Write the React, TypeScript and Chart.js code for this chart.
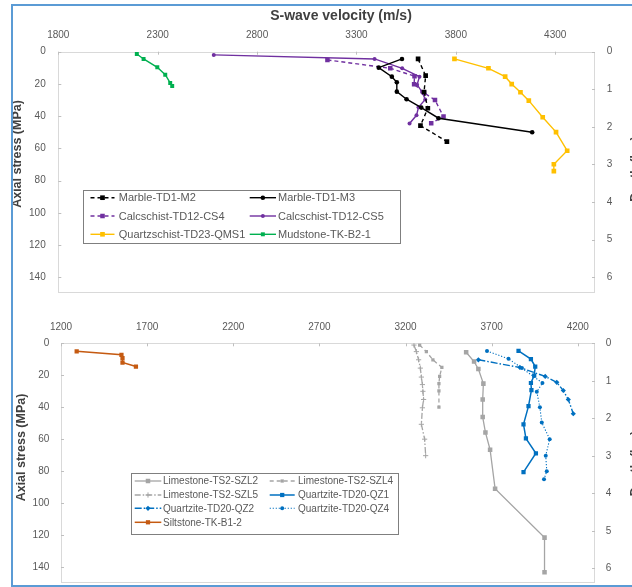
import React, { useEffect, useRef } from 'react';
import { Chart, registerables } from 'chart.js';

Chart.register(...registerables);

const FONT = "'Liberation Sans', Arial, Helvetica, sans-serif";

// ---------- axis ticks ----------
const TOP_VEL_TICKS = [1800, 2300, 2800, 3300, 3800, 4300];
const BOTTOM_VEL_TICKS = [1200, 1700, 2200, 2700, 3200, 3700, 4200];
const STRESS_TICKS = [0, 20, 40, 60, 80, 100, 120, 140];
const DEPTH_TICKS = [0, 1, 2, 3, 4, 5, 6];

// ---------- top chart data (S-wave velocity m/s, axial stress MPa) ----------
const M2_VEL = [3610, 3648, 3640, 3659, 3622, 3755];
const M2_STRESS = [4.5, 14.9, 25, 35.1, 45.9, 55.8];
const M3_VEL = [3529, 3412, 3478, 3503, 3503, 3552, 3626, 3713, 4184];
const M3_STRESS = [4.5, 9.9, 15.5, 19, 24.8, 29.5, 34.7, 41.3, 50];
const CS4_VEL = [3154, 3470, 3592, 3590, 3640, 3695, 3738, 3676];
const CS4_STRESS = [5.1, 10.3, 15.2, 20.2, 25.5, 30, 40.3, 44.4];
const CS5_VEL = [2582, 3391, 3530, 3617, 3605, 3630, 3646, 3612, 3602, 3567];
const CS5_STRESS = [2, 4.5, 10.3, 15.5, 20.5, 25, 29.6, 34.5, 39.5, 44.6];
const QMS1_VEL = [3793, 3964, 4048, 4081, 4125, 4167, 4237, 4304, 4360, 4293, 4293];
const QMS1_STRESS = [4.5, 10.3, 15.5, 20.1, 25.2, 30.4, 40.7, 49.9, 61.5, 69.9, 74.1];
const MUD_VEL = [2195, 2229, 2298, 2338, 2363, 2373];
const MUD_STRESS = [1.4, 4.5, 9.7, 14.3, 19.4, 21.3];

// ---------- bottom chart data ----------
const SZL2_VEL = [3552, 3598, 3623, 3652, 3648, 3648, 3664, 3691, 3720, 4007, 4007];
const SZL2_STRESS = [5.6, 11.4, 16.1, 25.2, 35.1, 46.1, 55.7, 66.5, 90.8, 121.4, 143];
const SZL4_VEL = [3282, 3321, 3359, 3411, 3398, 3394, 3394, 3394];
const SZL4_STRESS = [1.1, 5.2, 10.3, 15.1, 20.7, 25.2, 29.7, 39.9];
const SZL5_VEL = [3249, 3263, 3276, 3286, 3292, 3298, 3301, 3305, 3298, 3292, 3311, 3317];
const SZL5_STRESS = [1.1, 5.2, 10.3, 15.5, 21.1, 25.8, 30, 35.1, 40.3, 50.6, 59.9, 70.2];
const QZ1_VEL = [3856, 3928, 3953, 3947, 3928, 3931, 3914, 3885, 3899, 3957, 3885];
const QZ1_STRESS = [4.8, 9.9, 14.5, 20.2, 24.8, 29.3, 39.3, 50.6, 59.4, 68.7, 80.5];
const QZ2_VEL = [3623, 3864, 4011, 4078, 4116, 4145, 4174];
const QZ2_STRESS = [10.3, 15.1, 20.7, 24.4, 29.5, 35.1, 44];
const QZ4_VEL = [3673, 3798, 3876, 3995, 3962, 3980, 3991, 4037, 4014, 4020, 4004];
const QZ4_STRESS = [4.8, 9.7, 15.5, 24.8, 30.3, 39.9, 49.5, 59.9, 70.2, 79.9, 85];
const SILT_VEL = [1291, 1551, 1557, 1557, 1635];
const SILT_STRESS = [5, 7.2, 9.3, 12, 14.5];

type Series = {
  label: string;
  vel: number[];
  stress: number[];
  color: string;
  dash: number[];
  point: string;
  r: number;
  width: number;
};

const TOP_SERIES: Series[] = [
  { label: 'Marble-TD1-M2', vel: M2_VEL, stress: M2_STRESS, color: '#000000', dash: [4, 3], point: 'rect', r: 3.3, width: 1.4 },
  { label: 'Marble-TD1-M3', vel: M3_VEL, stress: M3_STRESS, color: '#000000', dash: [], point: 'circle', r: 2.3, width: 1.4 },
  { label: 'Calcschist-TD12-CS4', vel: CS4_VEL, stress: CS4_STRESS, color: '#7030a0', dash: [4, 3], point: 'rect', r: 3.2, width: 1.4 },
  { label: 'Calcschist-TD12-CS5', vel: CS5_VEL, stress: CS5_STRESS, color: '#7030a0', dash: [], point: 'circle', r: 2, width: 1.4 },
  { label: 'Quartzschist-TD23-QMS1', vel: QMS1_VEL, stress: QMS1_STRESS, color: '#ffc000', dash: [], point: 'rect', r: 3.3, width: 1.4 },
  { label: 'Mudstone-TK-B2-1', vel: MUD_VEL, stress: MUD_STRESS, color: '#00b050', dash: [], point: 'rect', r: 2.8, width: 1.4 },
];

const BOTTOM_SERIES: Series[] = [
  { label: 'Limestone-TS2-SZL2', vel: SZL2_VEL, stress: SZL2_STRESS, color: '#a5a5a5', dash: [], point: 'rect', r: 3.2, width: 1.3 },
  { label: 'Limestone-TS2-SZL4', vel: SZL4_VEL, stress: SZL4_STRESS, color: '#a5a5a5', dash: [4, 3], point: 'rect', r: 2.3, width: 1.3 },
  { label: 'Limestone-TS2-SZL5', vel: SZL5_VEL, stress: SZL5_STRESS, color: '#a5a5a5', dash: [6, 2, 1.5, 2], point: 'cross', r: 2.6, width: 1.3 },
  { label: 'Quartzite-TD20-QZ1', vel: QZ1_VEL, stress: QZ1_STRESS, color: '#0070c0', dash: [], point: 'rect', r: 3, width: 1.5 },
  { label: 'Quartzite-TD20-QZ2', vel: QZ2_VEL, stress: QZ2_STRESS, color: '#0070c0', dash: [7, 2, 1.5, 2], point: 'rectRot', r: 2.6, width: 1.4 },
  { label: 'Quartzite-TD20-QZ4', vel: QZ4_VEL, stress: QZ4_STRESS, color: '#0070c0', dash: [1.2, 1.8], point: 'circle', r: 2, width: 1.1 },
  { label: 'Siltstone-TK-B1-2', vel: SILT_VEL, stress: SILT_STRESS, color: '#c55a11', dash: [], point: 'rect', r: 3, width: 1.5 },
];

function drawMarker(ctx: CanvasRenderingContext2D, style: string, x: number, y: number, r: number, color: string) {
  ctx.save();
  ctx.setLineDash([]);
  ctx.fillStyle = color;
  ctx.strokeStyle = color;
  ctx.lineWidth = 1;
  ctx.beginPath();
  if (style === 'rect') {
    const s = r * Math.SQRT1_2;
    ctx.rect(x - s, y - s, 2 * s, 2 * s);
    ctx.fill();
  } else if (style === 'circle') {
    ctx.arc(x, y, r, 0, Math.PI * 2);
    ctx.fill();
  } else if (style === 'rectRot') {
    ctx.moveTo(x, y - r);
    ctx.lineTo(x + r, y);
    ctx.lineTo(x, y + r);
    ctx.lineTo(x - r, y);
    ctx.closePath();
    ctx.fill();
  } else if (style === 'cross') {
    ctx.moveTo(x - r, y);
    ctx.lineTo(x + r, y);
    ctx.moveTo(x, y - r);
    ctx.lineTo(x, y + r);
    ctx.stroke();
  }
  ctx.restore();
}

type Layout = {
  height: number;
  xMin: number;
  xMax: number;
  xTicks: number[];
  depthMax: number;
  leftW: number;
  rightW: number;
  topH: number;
  padBottom: number;
  xPad: number;
  yPad: number;
  rPad: number;
  xTitle: { text: string; x: number; y: number } | null;
  yTitle: { x: number; y: number };
  rTitle: { x: number; y: number };
  yTitleSize: number;
  legend: {
    left: number;
    top: number;
    right: number;
    bottom: number;
    rowY: number[];
    lineX: number[][];
    textX: number[];
    font: number;
  };
};

function makeDecor(series: Series[], L: Layout) {
  return {
    id: 'decor',
    beforeDatasetsDraw(chart: any) {
      const { ctx, chartArea: a, scales } = chart;
      ctx.save();
      ctx.strokeStyle = '#d9d9d9';
      ctx.lineWidth = 1;
      ctx.strokeRect(Math.round(a.left) + 0.5, Math.round(a.top) + 0.5, Math.round(a.right) - Math.round(a.left) - 1, Math.round(a.bottom) - Math.round(a.top) - 1);
      ctx.strokeStyle = '#bfbfbf';
      ctx.beginPath();
      L.xTicks.forEach((v) => {
        const px = Math.round(scales.x.getPixelForValue(v)) + 0.5;
        ctx.moveTo(px, a.top);
        ctx.lineTo(px, a.top + 3);
      });
      STRESS_TICKS.forEach((v) => {
        const py = Math.round(scales.y.getPixelForValue(v)) + 0.5;
        ctx.moveTo(a.left, py);
        ctx.lineTo(a.left + 3, py);
      });
      DEPTH_TICKS.forEach((v) => {
        const py = Math.round(scales.y2.getPixelForValue(v)) + 0.5;
        ctx.moveTo(a.right - 3, py);
        ctx.lineTo(a.right, py);
      });
      ctx.stroke();
      ctx.restore();
    },
    afterDraw(chart: any) {
      const ctx: CanvasRenderingContext2D = chart.ctx;
      ctx.save();
      // axis titles
      ctx.fillStyle = '#404040';
      ctx.textAlign = 'center';
      ctx.textBaseline = 'middle';
      if (L.xTitle) {
        ctx.font = `bold 14px ${FONT}`;
        ctx.fillText(L.xTitle.text, L.xTitle.x, L.xTitle.y);
      }
      ctx.font = `bold ${L.yTitleSize}px ${FONT}`;
      ctx.save();
      ctx.translate(L.yTitle.x, L.yTitle.y);
      ctx.rotate(-Math.PI / 2);
      ctx.fillText('Axial stress (MPa)', 0, 0);
      ctx.restore();
      ctx.save();
      ctx.translate(L.rTitle.x, L.rTitle.y);
      ctx.rotate(-Math.PI / 2);
      ctx.fillText('Depth (km)', 0, 0);
      ctx.restore();

      // legend
      const g = L.legend;
      ctx.fillStyle = '#ffffff';
      ctx.fillRect(g.left, g.top, g.right - g.left, g.bottom - g.top);
      ctx.strokeStyle = '#7f7f7f';
      ctx.lineWidth = 1;
      ctx.strokeRect(Math.round(g.left) + 0.5, Math.round(g.top) + 0.5, Math.round(g.right - g.left), Math.round(g.bottom - g.top));
      ctx.font = `${g.font}px ${FONT}`;
      ctx.textAlign = 'left';
      ctx.textBaseline = 'middle';
      series.forEach((s, i) => {
        const col = i % 2;
        const row = Math.floor(i / 2);
        const y = g.rowY[row];
        const [x0, x1] = g.lineX[col];
        ctx.save();
        ctx.strokeStyle = s.color;
        ctx.lineWidth = s.width;
        ctx.setLineDash(s.dash);
        ctx.beginPath();
        ctx.moveTo(x0, y);
        ctx.lineTo(x1, y);
        ctx.stroke();
        ctx.restore();
        drawMarker(ctx, s.point, (x0 + x1) / 2, y, s.r, s.color);
        ctx.fillStyle = '#595959';
        ctx.fillText(s.label, g.textX[col], y + 0.5);
      });
      ctx.restore();
    },
  };
}

function buildConfig(series: Series[], L: Layout): any {
  const tickFont = { family: FONT, size: 10 };
  const datasets = series.map((s) => ({
    label: s.label,
    data: s.vel.map((v, i) => ({ x: v, y: s.stress[i] })),
    showLine: true,
    borderColor: s.color,
    backgroundColor: s.color,
    borderWidth: s.width,
    borderDash: s.dash,
    pointStyle: s.point,
    pointRadius: s.r,
    pointHoverRadius: s.r,
    pointBackgroundColor: s.color,
    pointBorderColor: s.color,
    pointBorderWidth: s.point === 'cross' ? 1 : 0,
    tension: 0,
    xAxisID: 'x',
    yAxisID: 'y',
  }));
  const fixV = (w: number) => (s: any) => {
    s.width = w;
    s.paddingTop = 0;
    s.paddingBottom = 0;
  };
  return {
    type: 'scatter',
    data: { datasets },
    options: {
      animation: false,
      responsive: false,
      devicePixelRatio: 1,
      events: [],
      layout: { padding: { top: 0, left: 0, right: 0, bottom: L.padBottom } },
      plugins: { legend: { display: false }, tooltip: { enabled: false }, title: { display: false } },
      scales: {
        x: {
          type: 'linear',
          position: 'top',
          min: L.xMin,
          max: L.xMax,
          afterBuildTicks: (s: any) => { s.ticks = L.xTicks.map((v) => ({ value: v })); },
          afterFit: (s: any) => {
            s.height = L.topH;
            s.paddingLeft = 0;
            s.paddingRight = 0;
          },
          grid: { display: false, drawTicks: false },
          border: { display: false },
          ticks: { padding: L.xPad, color: '#595959', font: tickFont, maxRotation: 0, autoSkip: false, callback: (v: any) => String(v) },
        },
        y: {
          type: 'linear',
          position: 'left',
          reverse: true,
          min: 0,
          max: 150,
          afterBuildTicks: (s: any) => { s.ticks = STRESS_TICKS.map((v) => ({ value: v })); },
          afterFit: fixV(L.leftW),
          grid: { display: false, drawTicks: false },
          border: { display: false },
          ticks: { padding: L.yPad, color: '#595959', font: tickFont, autoSkip: false, callback: (v: any) => String(v) },
        },
        y2: {
          type: 'linear',
          display: true,
          position: 'right',
          reverse: true,
          min: 0,
          max: L.depthMax,
          afterBuildTicks: (s: any) => { s.ticks = DEPTH_TICKS.map((v) => ({ value: v })); },
          afterFit: fixV(L.rightW),
          grid: { display: false, drawTicks: false },
          border: { display: false },
          ticks: { padding: L.rPad, color: '#595959', font: tickFont, autoSkip: false, callback: (v: any) => String(v) },
        },
      },
    },
    plugins: [makeDecor(series, L)],
  };
}

const TOP_LAYOUT: Layout = {
  height: 300,
  xMin: 1800,
  xMax: 4500,
  xTicks: TOP_VEL_TICKS,
  depthMax: 6.43,
  leftW: 58.3,
  rightW: 37,
  topH: 51.7,
  padBottom: 6.7,
  xPad: 10.7,
  yPad: 12.6,
  rPad: 11.7,
  xTitle: { text: 'S-wave velocity (m/s)', x: 341, y: 16 },
  yTitle: { x: 18, y: 154 },
  rTitle: { x: 636, y: 169 },
  yTitleSize: 12.5,
  legend: {
    left: 83,
    top: 190,
    right: 400,
    bottom: 243,
    rowY: [197.7, 216, 234.3],
    lineX: [[90.5, 114.5], [249.7, 276]],
    textX: [118.8, 278],
    font: 11,
  },
};

const BOTTOM_LAYOUT: Layout = {
  height: 287,
  xMin: 1200,
  xMax: 4300,
  xTicks: BOTTOM_VEL_TICKS,
  depthMax: 6.4,
  leftW: 61,
  rightW: 37,
  topH: 43.3,
  padBottom: 1.6,
  xPad: 9.6,
  yPad: 11.7,
  rPad: 10.7,
  xTitle: null,
  yTitle: { x: 21.7, y: 147.5 },
  rTitle: { x: 636, y: 163.5 },
  yTitleSize: 12.5,
  legend: {
    left: 130.7,
    top: 172.7,
    right: 397.3,
    bottom: 233.3,
    rowY: [181, 195, 208.3, 222.3],
    lineX: [[134.7, 161.3], [269.7, 294.7]],
    textX: [163, 298],
    font: 10,
  },
};

function ChartCanvas({ series, layout, top }: { series: Series[]; layout: Layout; top: number }) {
  const ref = useRef<HTMLCanvasElement>(null);
  useEffect(() => {
    const chart = new Chart(ref.current as HTMLCanvasElement, buildConfig(series, layout));
    return () => chart.destroy();
  }, [series, layout]);
  return (
    <canvas
      ref={ref}
      width={632}
      height={layout.height}
      style={{ position: 'absolute', left: 0, top, width: 632, height: layout.height, display: 'block' }}
    />
  );
}

export default function App() {
  return (
    <div style={{ position: 'fixed', left: 0, top: 0, width: 632, height: 587, overflow: 'hidden', background: '#ffffff' }}>
      <ChartCanvas series={TOP_SERIES} layout={TOP_LAYOUT} top={0} />
      <ChartCanvas series={BOTTOM_SERIES} layout={BOTTOM_LAYOUT} top={300} />
      <div
        style={{
          position: 'absolute',
          left: 11,
          top: 4,
          width: 700,
          height: 583,
          border: '2px solid #5b9bd5',
          boxSizing: 'border-box',
          pointerEvents: 'none',
        }}
      />
    </div>
  );
}
